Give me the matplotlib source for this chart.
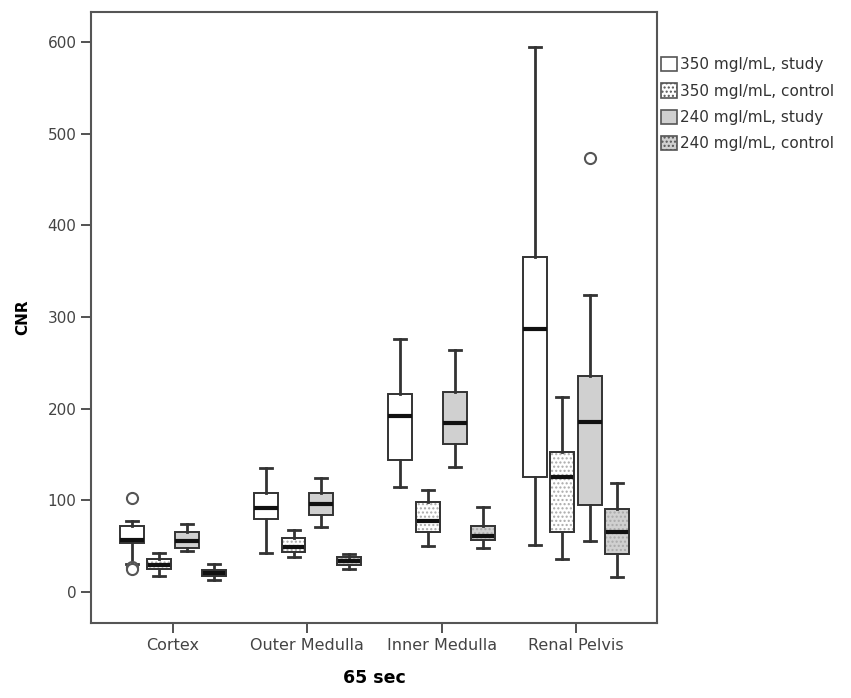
import matplotlib
matplotlib.use("Agg")
import matplotlib.pyplot as plt
from matplotlib.patches import Patch, PathPatch
import numpy as np

plt.rcParams['font.family'] = ['DejaVu Sans']

regions = ['Cortex', 'Outer Medulla', 'Inner Medulla', 'Renal Pelvis']
groups = ['350 mgl/mL, study', '350 mgl/mL, control',
          '240 mgl/mL, study', '240 mgl/mL, control']

# five-number summaries per group, one value per region
whislo = [[31, 43, 115, 51],
          [17, 38.5, 50, 36],
          [45, 71, 136, 56],
          [13, 25, 48, 16]]
q1 = [[54, 80, 144, 125],
      [25, 44, 65, 66],
      [48, 84, 161, 95],
      [17, 29.5, 57, 42]]
med = [[57, 92, 192, 287],
       [29, 49, 77, 125],
       [56, 96, 184, 186],
       [21, 34, 61, 66]]
q3 = [[72, 108, 216, 365],
      [36, 58.5, 98, 153],
      [65, 108, 218, 236],
      [24, 38.5, 72, 91]]
whishi = [[77, 135, 276, 595],
          [43, 67.5, 111, 213],
          [74, 124, 264, 324],
          [31, 42, 93, 119]]
fliers = [[[103, 27, 25], [], [], []],
          [[], [], [], []],
          [[], [], [], [473]],
          [[], [], [], []]]

face_colors = ['white', 'white', '#d0d0d0', '#d0d0d0']
hatches = [None, '....', None, '....']

fig = plt.figure(figsize=(8.51, 6.98), dpi=100)
ax = fig.add_axes([0.1069, 0.1074, 0.6651, 0.8754])

offsets = [-1.5, -0.5, 0.5, 1.5]
step = 0.205
width = 0.178

for g in range(4):
    stats = []
    for r in range(4):
        stats.append(dict(med=med[g][r], q1=q1[g][r], q3=q3[g][r],
                          whislo=whislo[g][r], whishi=whishi[g][r],
                          fliers=fliers[g][r]))
    pos = np.arange(4) + offsets[g] * step
    bp = ax.bxp(stats, positions=pos, widths=width, patch_artist=True,
                showfliers=True, manage_ticks=False,
                boxprops=dict(facecolor=face_colors[g], edgecolor='#333333', linewidth=1.4),
                medianprops=dict(color='#111111', linewidth=3),
                whiskerprops=dict(color='#333333', linewidth=2),
                capprops=dict(color='#333333', linewidth=2),
                capwidths=width * 0.5,
                flierprops=dict(marker='o', markerfacecolor='white',
                                markeredgecolor='#555555', markersize=8,
                                markeredgewidth=1.5))
    for box in bp['boxes']:
        if hatches[g]:
            box.set_hatch(hatches[g])
            box.set_edgecolor('#aaaaaa')
            outline = PathPatch(box.get_path(), facecolor='none',
                                edgecolor='#333333', linewidth=1.4, zorder=box.get_zorder() + 0.1)
            ax.add_patch(outline)

ax.set_xlim(-0.611, 3.604)
ax.set_ylim(-33.8, 632.7)
ax.set_xticks(np.arange(4))
ax.set_xticklabels(regions, fontsize=11.5)
ax.set_yticks(np.arange(0, 700, 100))
ax.tick_params(axis='both', colors='#444444', length=7, width=1.3,
               labelcolor='#444444')
ax.tick_params(axis='y', labelsize=11)
for s in ax.spines.values():
    s.set_color('#555555')
    s.set_linewidth(1.5)

ax.set_ylabel('CNR', fontsize=11, fontweight='bold', labelpad=12)
ax.set_xlabel('65 sec', fontsize=12.5, fontweight='bold', labelpad=12)

handles = []
for g in range(4):
    h = Patch(facecolor=face_colors[g], edgecolor='#555555', linewidth=1.2,
              hatch=hatches[g] if hatches[g] else None)
    handles.append(h)
leg = fig.legend(handles, groups, loc='upper left', bbox_to_anchor=(0.770, 0.927),
                 frameon=False, fontsize=11, handlelength=1.05, handleheight=1.05,
                 handletextpad=0.15, labelspacing=0.72, borderaxespad=0)
for t in leg.get_texts():
    t.set_color('#333333')

fig.savefig('out.png', dpi=100)
